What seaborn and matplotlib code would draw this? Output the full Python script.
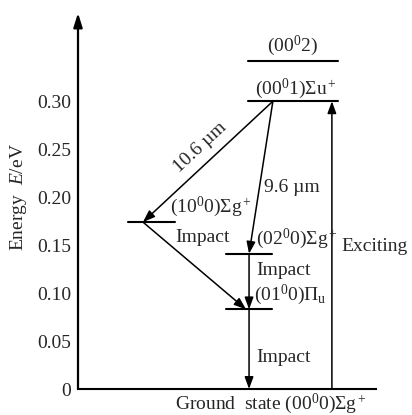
import matplotlib
matplotlib.use("Agg")
import matplotlib.pyplot as plt
import seaborn as sns
import pandas as pd
import numpy as np

# ---- data ----
level_names = ["(00$^0$2)", "(00$^0$1)Σu$^+$", "(10$^0$0)Σg$^+$",
               "(02$^0$0)Σg$^+$", "(01$^0$0)Π$_\\mathrm{u}$"]
level_energy = [0.342, 0.300, 0.174, 0.141, 0.083]
ground_energy = 0.0
ytick_values = [0, 0.05, 0.10, 0.15, 0.20, 0.25, 0.30]
ytick_labels = ["0", "0.05", "0.10", "0.15", "0.20", "0.25", "0.30"]
y_top = 0.392

# level segment extents (diagram columns, arbitrary units)
level_x0 = [5.70, 5.70, 1.68, 4.97, 4.97]
level_x1 = [8.72, 8.72, 3.26, 6.51, 6.51]

# transitions: (start x, start level energy, end x, end level energy)
trans_x0 = [6.54, 6.54, 2.18, 5.74, 5.74, 8.52]
trans_e0 = [0.300, 0.300, 0.174, 0.141, 0.083, 0.0]
trans_x1 = [2.18, 5.74, 5.64, 5.74, 5.74, 8.52]
trans_e1 = [0.174, 0.141, 0.083, 0.083, 0.0, 0.300]

sns.set_style("white")
plt.rcParams["font.family"] = ["Liberation Serif", "DejaVu Serif"]
plt.rcParams["mathtext.fontset"] = "custom"
plt.rcParams["mathtext.rm"] = "Liberation Serif"
plt.rcParams["mathtext.it"] = "Liberation Serif:italic"
plt.rcParams["mathtext.bf"] = "Liberation Serif:bold"

fig = plt.figure(figsize=(4.12, 4.15), dpi=100)
ax = fig.add_axes([78/412, 26/415, 298/412, 376/415])

# level lines via seaborn
rows = []
for i, (n, e) in enumerate(zip(level_names, level_energy)):
    rows.append({"lvl": i, "x": level_x0[i], "E": e})
    rows.append({"lvl": i, "x": level_x1[i], "E": e})
df = pd.DataFrame(rows)
sns.lineplot(data=df, x="x", y="E", units="lvl", estimator=None,
             color="black", linewidth=1.5, ax=ax, legend=False)

# transitions
for x0, e0, x1, e1 in zip(trans_x0, trans_e0, trans_x1, trans_e1):
    ax.annotate("", xy=(x1, e1), xytext=(x0, e0),
                arrowprops=dict(arrowstyle="-|>,head_length=0.6,head_width=0.22",
                                color="black", lw=1.1, mutation_scale=12,
                                shrinkA=0, shrinkB=0))

ax.set_xlim(0, 10)
ax.set_ylim(0, y_top)
ax.set_yticks(ytick_values)
ax.set_yticklabels(ytick_labels, fontsize=14)
ax.set_xticks([])
ax.tick_params(axis="y", direction="out", length=4, width=1.5, pad=1, color="black")
for s in ["top", "right", "left"]:
    ax.spines[s].set_visible(False)
ax.spines["bottom"].set_linewidth(1.5)
ax.spines["bottom"].set_color("black")
ax.set_xlabel("")

# y axis with arrow
ax.annotate("", xy=(0, 1.0), xytext=(0, 0), xycoords="axes fraction",
            textcoords="axes fraction",
            arrowprops=dict(arrowstyle="-|>,head_length=0.7,head_width=0.22",
                            color="black", lw=1.6, mutation_scale=12,
                            shrinkA=0, shrinkB=0), annotation_clip=False)

ax.set_ylabel("Energy  $E$/eV", fontsize=14)
ax.yaxis.set_label_coords(-0.165, 0.51)

fs = 14
# level labels
ax.text(7.21, 0.358, level_names[0], fontsize=fs, ha="center", va="center")
ax.text(7.32, 0.3125, level_names[1], fontsize=fs, ha="center", va="center")
ax.text(3.09, 0.1896, level_names[2], fontsize=fs, ha="left", va="center")
ax.text(5.97, 0.157, level_names[3], fontsize=fs, ha="left", va="center")
ax.text(5.91, 0.098, level_names[4], fontsize=fs, ha="left", va="center")

# transition labels
ax.text(4.1, 0.252, "10.6 µm", fontsize=fs, ha="center", va="center", rotation=43)
ax.text(6.24, 0.210, "9.6 µm", fontsize=fs, ha="left", va="center")
ax.text(3.26, 0.158, "Impact", fontsize=fs, ha="left", va="center")
ax.text(5.97, 0.124, "Impact", fontsize=fs, ha="left", va="center")
ax.text(5.97, 0.033, "Impact", fontsize=fs, ha="left", va="center")
ax.text(8.83, 0.149, "Exciting", fontsize=fs, ha="left", va="center")
ax.text(3.26, -0.0155, "Ground  state (00$^0$0)Σg$^+$", fontsize=fs,
        ha="left", va="center", clip_on=False)

fig.savefig("out.png", dpi=100, facecolor="white")
